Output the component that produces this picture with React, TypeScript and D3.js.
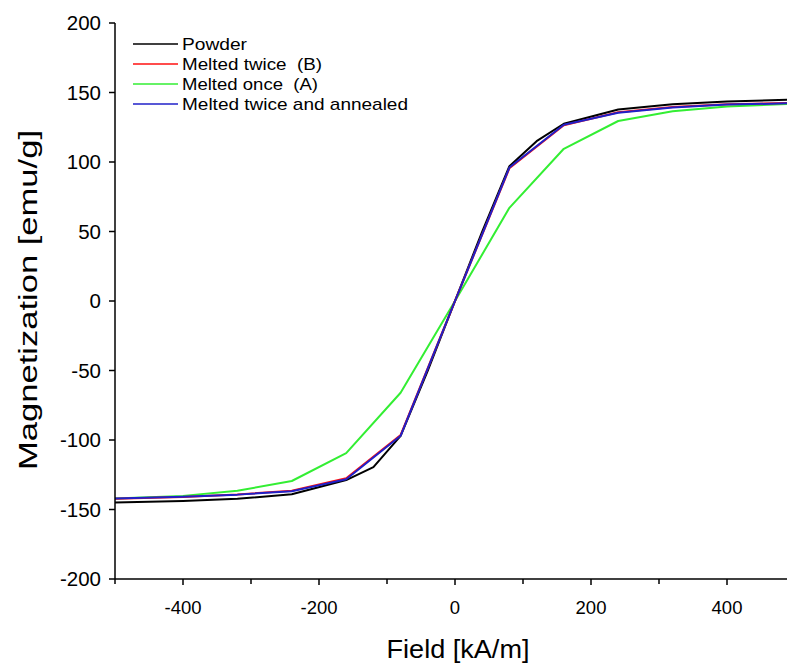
import React from "react";
import * as d3 from "d3";

const fieldsMain = [-500, -400, -320, -240, -160, -80, 0, 80, 160, 240, 320, 400, 500];
const powderFields = [-500, -400, -320, -240, -160, -120, -80, -40, 0, 40, 80, 120, 160, 240, 320, 400, 500];
const powder = [-145, -143.8, -142.3, -139, -128.8, -119.5, -97, -50, 0, 50, 97, 115, 127.5, 137.8, 141.5, 143.5, 145];
const meltedTwiceB = [-142.3, -141, -139.2, -136.5, -127.5, -96.5, 0, 95.5, 126.5, 135.8, 139.5, 141.5, 142.5];
const meltedOnceA = [-142, -140.2, -136.5, -129.5, -109.5, -66, 0, 67, 109.5, 129.5, 136.5, 140, 142];
const meltedTwiceAnnealed = [-142, -140.8, -139.3, -136.8, -128.2, -97, 0, 96, 126.8, 135.5, 139.2, 141.3, 142.3];

const seriesNames = ["Powder", "Melted twice  (B)", "Melted once  (A)", "Melted twice and annealed"];
const seriesColors = ["#000000", "#ff1010", "#33ee33", "#2020c8"];
const legendLengths = [65, 140, 136, 226];

const xTicksMajor = [-400, -200, 0, 200, 400];
const xTicksMinor = [-500, -300, -100, 100, 300, 500];
const yTicks = [-200, -150, -100, -50, 0, 50, 100, 150, 200];

export default function App() {
  const W = 787, H = 664;
  const x = d3.scaleLinear().domain([-500, 500]).range([115, 795]);
  const y = d3.scaleLinear().domain([-200, 200]).range([579, 23]);
  const font = "'Liberation Sans', Arial, sans-serif";

  const series = [
    { name: seriesNames[0], color: seriesColors[0], xs: powderFields, ys: powder },
    { name: seriesNames[1], color: seriesColors[1], xs: fieldsMain, ys: meltedTwiceB },
    { name: seriesNames[2], color: seriesColors[2], xs: fieldsMain, ys: meltedOnceA },
    { name: seriesNames[3], color: seriesColors[3], xs: fieldsMain, ys: meltedTwiceAnnealed },
  ];
  const line = d3.line<[number, number]>().x((d) => x(d[0])).y((d) => y(d[1]));
  const drawOrder = [2, 0, 1, 3];

  return (
    <svg width={W} height={H} style={{ position: "absolute", left: 0, top: 0, background: "#fff" }}>
      <rect x={0} y={0} width={W} height={H} fill="#fff" />
      {drawOrder.map((i) => {
        const s = series[i];
        const pts = s.xs.map((v, k) => [v, s.ys[k]] as [number, number]);
        return <path key={i} d={line(pts) || ""} fill="none" stroke={s.color} strokeWidth={2} strokeLinejoin="round" />;
      })}
      {/* axes */}
      <line x1={x(-500)} x2={W} y1={y(-200)} y2={y(-200)} stroke="#000" strokeWidth={1.5} />
      <line x1={x(-500)} x2={x(-500)} y1={y(200)} y2={y(-200)} stroke="#000" strokeWidth={1.5} />
      {yTicks.map((t) => (
        <g key={"y" + t}>
          <line x1={x(-500) - 6} x2={x(-500)} y1={y(t)} y2={y(t)} stroke="#000" strokeWidth={1.5} />
          <text x={x(-500) - 14} y={y(t)} dy="0.35em" textAnchor="end" fontFamily={font} fontSize={20.5} fill="#000">
            {t}
          </text>
        </g>
      ))}
      {xTicksMinor.map((t) => (
        <line key={"xm" + t} x1={x(t)} x2={x(t)} y1={y(-200)} y2={y(-200) + 5} stroke="#000" strokeWidth={1.5} />
      ))}
      {xTicksMajor.map((t) => (
        <g key={"x" + t}>
          <line x1={x(t)} x2={x(t)} y1={y(-200)} y2={y(-200) + 6} stroke="#000" strokeWidth={1.5} />
          <text x={x(t)} y={y(-200) + 35} textAnchor="middle" fontFamily={font} fontSize={18.5} fill="#000">
            {t}
          </text>
        </g>
      ))}
      <text x={458} y={658} textAnchor="middle" fontFamily={font} fontSize={25} fill="#000" textLength={143} lengthAdjust="spacingAndGlyphs">
        Field [kA/m]
      </text>
      <text
        transform={`translate(${37},${300}) rotate(-90)`}
        textAnchor="middle"
        fontFamily={font}
        fontSize={26}
        fill="#000"
        textLength={340}
        lengthAdjust="spacingAndGlyphs"
      >
        Magnetization [emu/g]
      </text>
      {/* legend */}
      {series.map((s, i) => (
        <g key={"lg" + i} transform={`translate(133, ${44 + i * 20})`}>
          <line x1={0} x2={45} y1={0} y2={0} stroke={s.color} strokeWidth={1.5} />
          <text
            x={49}
            y={0}
            dy="0.36em"
            fontFamily={font}
            fontSize={17}
            fill="#000"
            style={{ whiteSpace: "pre" }}
            textLength={legendLengths[i]}
            lengthAdjust="spacingAndGlyphs"
          >
            {s.name}
          </text>
        </g>
      ))}
    </svg>
  );
}
